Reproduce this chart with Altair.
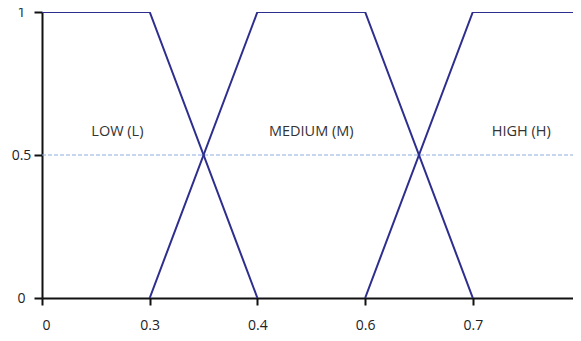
import altair as alt
import pandas as pd

# equal-spaced positions on the x axis, labelled with these values
tick_labels = ["0", "0.3", "0.4", "0.6", "0.7"]
tick_pos = [0, 1, 2, 3, 4]

low_x = [0, 1, 2]
low_y = [1, 1, 0]
med_x = [1, 2, 3, 4]
med_y = [0, 1, 1, 0]
high_x = [3, 4, 5]
high_y = [0, 1, 1]

label_text = ["LOW (L)", "MEDIUM (M)", "HIGH (H)"]
label_x = [0.7, 2.5, 4.45]
label_y = [0.58, 0.58, 0.58]

rows = []
for name, xs, ys in [("LOW", low_x, low_y), ("MEDIUM", med_x, med_y), ("HIGH", high_x, high_y)]:
    for i, (x, y) in enumerate(zip(xs, ys)):
        rows.append({"set": name, "x": x, "y": y, "o": i})
df = pd.DataFrame(rows)
lab = pd.DataFrame({"t": label_text, "x": label_x, "y": label_y})
half = pd.DataFrame({"x": [0, 5], "y": [0.5, 0.5]})

label_expr = "{" + ",".join(f"'{p}':'{t}'" for p, t in zip(tick_pos, tick_labels)) + "}[datum.value]"

xscale = alt.Scale(domain=[0, 4.93], nice=False, zero=False)
yscale = alt.Scale(domain=[0, 1], nice=False)

xaxis = alt.Axis(values=tick_pos, labelExpr=label_expr, title=None, grid=False,
                 domainColor="#111111", domainWidth=2, tickColor="#111111", tickWidth=2,
                 tickSize=7, labelPadding=13, labelFont="Open Sans", labelFontSize=14,
                 labelColor="#222222")
yaxis = alt.Axis(values=[0, 0.5, 1], format="~g", title=None, grid=False, labelAlign="center",
                 domainColor="#111111", domainWidth=2, tickColor="#111111", tickWidth=2,
                 tickSize=8, labelPadding=13, labelFont="Open Sans", labelFontSize=14,
                 labelColor="#222222", labelBaseline="middle")

dash = alt.Chart(half).mark_line(color="#8FAEE0", strokeWidth=1, strokeDash=[4, 2], clip=True).encode(
    x=alt.X("x:Q", scale=xscale, axis=xaxis),
    y=alt.Y("y:Q", scale=yscale, axis=yaxis),
)

lines = alt.Chart(df).mark_line(color="#2E2E8F", strokeWidth=2, clip=True).encode(
    x=alt.X("x:Q", scale=xscale),
    y=alt.Y("y:Q", scale=yscale),
    detail="set:N",
    order="o:Q",
)

texts = alt.Chart(lab).mark_text(font="Open Sans", fontSize=14.5, color="#333333").encode(
    x=alt.X("x:Q", scale=xscale),
    y=alt.Y("y:Q", scale=yscale),
    text="t:N",
)

chart = alt.layer(dash, lines, texts).properties(
    width=531, height=286,
    background="white",
    autosize=alt.AutoSizeParams(type="none"),
    padding={"left": 34, "top": 4, "right": 0, "bottom": 35},
).configure_view(stroke="transparent", strokeWidth=0).configure_axis(grid=False)

chart.save("out.html", embed_options={"renderer": "svg", "actions": False})
